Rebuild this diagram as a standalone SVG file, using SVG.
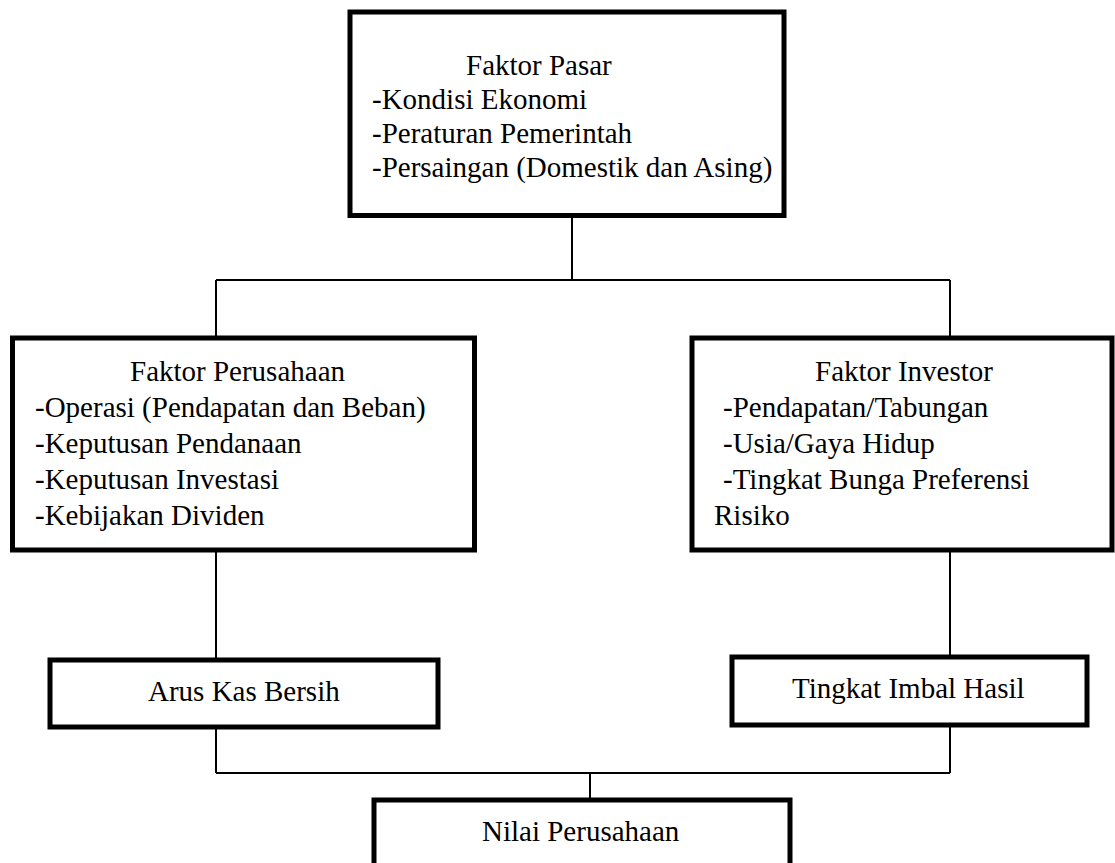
<svg xmlns="http://www.w3.org/2000/svg" width="1115" height="863" viewBox="0 0 1115 863">
<rect width="1115" height="863" fill="#fff"/>
<g id="connectors" fill="none" stroke="#000" stroke-width="2">
<path d="M572 216 V280 M216 280 H950 M216 280 V336 M950 280 V336"/>
<path d="M216 550 V658 M950 550 V656"/>
<path d="M216 728 V773 M950 726 V773 M216 773 H950 M590 773 V798"/>
</g>
<g id="faktor-pasar">
<rect x="350" y="12" width="434" height="203.5" fill="#fff" stroke="#000" stroke-width="5"/>
<text x="466" y="75" font-family="Liberation Serif" font-size="29">Faktor Pasar</text>
<text x="372" y="109" font-family="Liberation Serif" font-size="29">-Kondisi Ekonomi</text>
<text x="372" y="143" font-family="Liberation Serif" font-size="29">-Peraturan Pemerintah</text>
<text x="372" y="177" font-family="Liberation Serif" font-size="29">-Persaingan (Domestik dan Asing)</text>
</g>
<g id="faktor-perusahaan">
<rect x="12.5" y="338" width="462" height="212" fill="#fff" stroke="#000" stroke-width="5"/>
<text x="130" y="381" font-family="Liberation Serif" font-size="29">Faktor Perusahaan</text>
<text x="35" y="417" font-family="Liberation Serif" font-size="29">-Operasi (Pendapatan dan Beban)</text>
<text x="35" y="453" font-family="Liberation Serif" font-size="29">-Keputusan Pendanaan</text>
<text x="35" y="489" font-family="Liberation Serif" font-size="29">-Keputusan Investasi</text>
<text x="35" y="525" font-family="Liberation Serif" font-size="29">-Kebijakan Dividen</text>
</g>
<g id="faktor-investor">
<rect x="692" y="338" width="420" height="212" fill="#fff" stroke="#000" stroke-width="5"/>
<text x="815" y="381" font-family="Liberation Serif" font-size="29">Faktor Investor</text>
<text x="723" y="417" font-family="Liberation Serif" font-size="29">-Pendapatan/Tabungan</text>
<text x="723" y="453" font-family="Liberation Serif" font-size="29">-Usia/Gaya Hidup</text>
<text x="723" y="489" font-family="Liberation Serif" font-size="29">-Tingkat Bunga Preferensi</text>
<text x="714" y="525" font-family="Liberation Serif" font-size="29">Risiko</text>
</g>
<g id="arus-kas-bersih">
<rect x="50" y="660" width="388" height="67" fill="#fff" stroke="#000" stroke-width="5"/>
<text x="148" y="701" font-family="Liberation Serif" font-size="29">Arus Kas Bersih</text>
</g>
<g id="tingkat-imbal-hasil">
<rect x="732" y="657" width="355" height="68" fill="#fff" stroke="#000" stroke-width="5"/>
<text x="792" y="698" font-family="Liberation Serif" font-size="29">Tingkat Imbal Hasil</text>
</g>
<g id="nilai-perusahaan">
<rect x="374" y="800" width="416" height="80" fill="#fff" stroke="#000" stroke-width="5"/>
<text x="482" y="841" font-family="Liberation Serif" font-size="29">Nilai Perusahaan</text>
</g>
</svg>
